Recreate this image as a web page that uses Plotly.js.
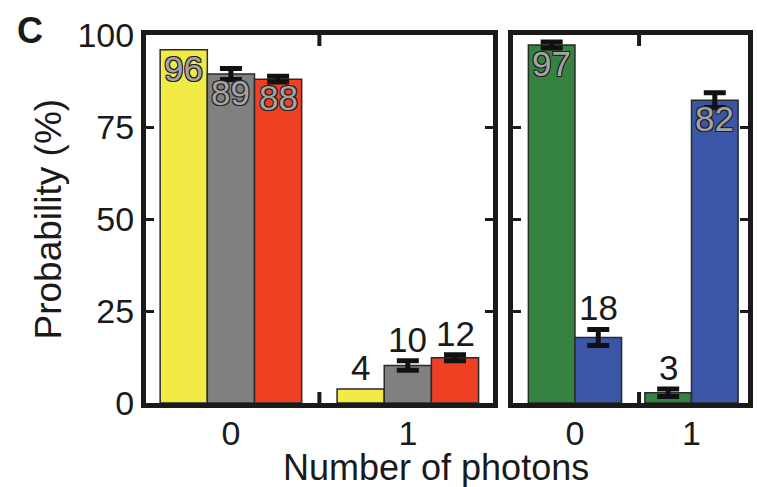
<!DOCTYPE html>
<html>
<head>
<meta charset="utf-8">
<script src="https://cdn.plot.ly/plotly-3.0.1.min.js"></script>
<style>html,body{margin:0;padding:0;background:#fff;}#chart{width:757px;height:487px;}</style>
</head>
<body>
<div id="chart"></div>
<script>
// ---- data ----
const photonCats = [0, 1];
const photonLabels = ['0', '1'];
const yTicks = [0, 25, 50, 75, 100];

const yellowVals = [96, 3.8];
const yellowErr  = [0, 0];
const grayVals   = [89.4, 10.2];
const grayErr    = [1.5, 1.3];
const redVals    = [88, 12.3];
const redErr     = [0.8, 0.8];

const greenVals  = [97.3, 2.8];
const greenErr   = [0.8, 1.0];
const blueVals   = [17.8, 82.3];
const blueErr    = [2.2, 2.0];

const yellowLabels = ['96', '4'];
const grayLabels   = ['89', '10'];
const redLabels    = ['88', '12'];
const greenLabels  = ['97', '3'];
const blueLabels   = ['18', '82'];

// ---- styles ----
const FONT = 'Liberation Sans, Arial, Helvetica, sans-serif';
const colors = {yellow:'#F2EB45', gray:'#808080', red:'#EE4124', green:'#358241', blue:'#3B55A7'};
const INSIDE_MIN = 50; // values above this get their label inside the bar

function barTrace(vals, err, color, xa, ya) {
  const hasErr = err.some(e => e > 0);
  return {
    type: 'bar', x: photonCats, y: vals, xaxis: xa, yaxis: ya,
    marker: {color: color, line: {color: '#2a2a2a', width: 1.5}},
    error_y: {type: 'data', array: err, visible: hasErr, color: '#111', thickness: 5, width: 11},
    hoverinfo: 'skip', showlegend: false
  };
}

const traces = [
  barTrace(yellowVals, yellowErr, colors.yellow, 'x', 'y'),
  barTrace(grayVals, grayErr, colors.gray, 'x', 'y'),
  barTrace(redVals, redErr, colors.red, 'x', 'y'),
  barTrace(greenVals, greenErr, colors.green, 'x2', 'y2'),
  barTrace(blueVals, blueErr, colors.blue, 'x2', 'y2')
];

const annotations = [];
const outline = '-1px -1px 0 #222, 1px -1px 0 #222, -1px 1px 0 #222, 1px 1px 0 #222';
function addLabels(groups, xref, yref) {
  const n = groups.length, w = 0.8 / n;
  groups.forEach((g, i) => {
    const off = (i - (n - 1) / 2) * w;
    photonCats.forEach((c, j) => {
      const v = g.vals[j], e = g.err[j];
      if (v > INSIDE_MIN) {
        annotations.push({x: c + off, y: v, xref, yref, text: g.labels[j], showarrow: false,
          xanchor: 'center', yanchor: 'top', yshift: 3,
          font: {family: FONT, size: 35, color: '#a4a4a4', shadow: outline}});
      } else {
        annotations.push({x: c + off, y: v + e, xref, yref, text: g.labels[j], showarrow: false,
          xanchor: 'center', yanchor: 'bottom', yshift: 0,
          font: {family: FONT, size: 35, color: '#1a1a1a'}});
      }
    });
  });
}
addLabels([
  {vals: yellowVals, err: yellowErr, labels: yellowLabels},
  {vals: grayVals, err: grayErr, labels: grayLabels},
  {vals: redVals, err: redErr, labels: redLabels}
], 'x', 'y');
addLabels([
  {vals: greenVals, err: greenErr, labels: greenLabels},
  {vals: blueVals, err: blueErr, labels: blueLabels}
], 'x2', 'y2');

annotations.push({xref: 'paper', yref: 'paper', x: 0.482, y: -0.176, text: 'Number of photons',
  showarrow: false, xanchor: 'center', yanchor: 'middle', font: {family: FONT, size: 36, color: '#1a1a1a'}});
annotations.push({xref: 'paper', yref: 'paper', x: -0.162, y: 0.5, text: 'Probability (%)', textangle: -90,
  showarrow: false, xanchor: 'center', yanchor: 'middle', font: {family: FONT, size: 37, color: '#1a1a1a'}});
annotations.push({xref: 'paper', yref: 'paper', x: -0.193, y: 1.013, text: 'C',
  showarrow: false, xanchor: 'center', yanchor: 'middle', font: {family: FONT, size: 36, color: '#1a1a1a', weight: 'bold'}});

// small inward tick marks between the two photon-number groups (top and bottom of each panel)
const midTicks = [{xref: 'x', yref: 'y domain', at: 0.5}, {xref: 'x2', yref: 'y2 domain', at: 0.55}];
const shapes = [];
midTicks.forEach(t => {
  shapes.push({type: 'line', xref: t.xref, yref: t.yref, x0: t.at, x1: t.at, y0: 0, y1: 0.03,
    line: {color: '#1a1a1a', width: 4}, layer: 'above'});
  shapes.push({type: 'line', xref: t.xref, yref: t.yref, x0: t.at, x1: t.at, y0: 1, y1: 0.97,
    line: {color: '#1a1a1a', width: 4}, layer: 'above'});
});

const xBase = {
  tickmode: 'array', tickvals: photonCats, ticktext: photonLabels,
  ticks: '', showline: true, linecolor: '#1a1a1a', linewidth: 5, mirror: true,
  showgrid: false, zeroline: false, fixedrange: true, ticklabelstandoff: -4,
  tickfont: {family: FONT, size: 34, color: '#1a1a1a'}
};
const yBase = {
  range: [0, 100], tickmode: 'array', tickvals: yTicks,
  ticks: 'inside', ticklen: 8, tickwidth: 3, tickcolor: '#1a1a1a',
  showline: true, linecolor: '#1a1a1a', linewidth: 5, mirror: 'ticks',
  showgrid: false, zeroline: false, fixedrange: true,
  tickfont: {family: FONT, size: 34, color: '#1a1a1a'}
};

const layout = {
  width: 757, height: 487,
  margin: {l: 146, r: 9, t: 35, b: 84},
  paper_bgcolor: '#fff', plot_bgcolor: '#fff',
  barmode: 'group', bargap: 0.2, bargroupgap: 0,
  xaxis: Object.assign({}, xBase, {domain: [0, 0.576], range: [-0.48, 1.48], anchor: 'y'}),
  yaxis: Object.assign({}, yBase, {anchor: 'x'}),
  xaxis2: Object.assign({}, xBase, {domain: [0.61, 1], range: [-0.53, 1.485], anchor: 'y2'}),
  yaxis2: Object.assign({}, yBase, {anchor: 'x2', showticklabels: false}),
  annotations: annotations,
  shapes: shapes
};

Plotly.newPlot('chart', traces, layout, {staticPlot: true, displayModeBar: false});
</script>
</body>
</html>
